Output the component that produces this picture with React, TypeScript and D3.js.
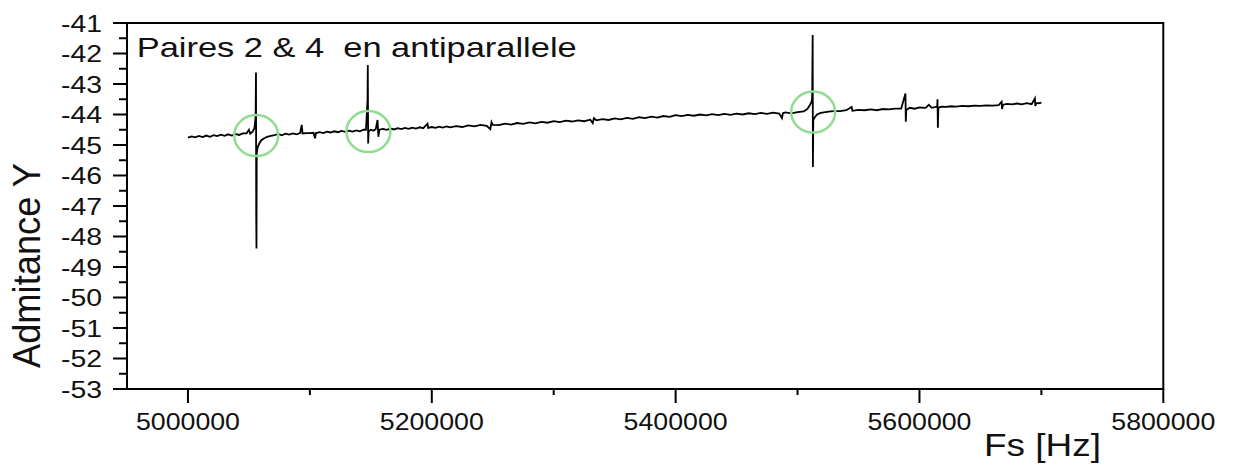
import React from "react";
import * as d3 from "d3";

// Frequency (Hz) and admittance readings
const FREQ: number[] = [
  5000000, 5003000, 5006000, 5009000, 5012000, 5015000, 5018000, 5021000, 5024000, 5027000,
  5030000, 5033000, 5036000, 5039000, 5042000, 5045000, 5048000, 5050000, 5051000, 5053000,
  5054500, 5055500, 5055800, 5056000, 5056200, 5056400, 5057000, 5058500, 5060000, 5062500,
  5065000, 5068000, 5071000, 5074000, 5077000, 5080000, 5083000, 5086000, 5089000, 5092000,
  5093300, 5094000, 5097000, 5100000, 5103000, 5104200, 5105000, 5108000, 5111000, 5114000,
  5117000, 5120000, 5123000, 5126000, 5129000, 5132000, 5135000, 5138000, 5141000, 5144000,
  5146000, 5147300, 5147500, 5147800, 5148200, 5150000, 5152000, 5154000, 5155500, 5156200,
  5157000, 5160000, 5163000, 5166000, 5169000, 5172000, 5175000, 5178000, 5181000, 5184000,
  5187000, 5190000, 5193000, 5196500, 5197000, 5200000, 5203000, 5206000, 5209000, 5212000,
  5215000, 5220000, 5225000, 5230000, 5235000, 5240000, 5245000, 5248000, 5249000, 5250000,
  5255000, 5260000, 5265000, 5270000, 5275000, 5280000, 5285000, 5290000, 5295000, 5300000,
  5305000, 5310000, 5315000, 5320000, 5325000, 5330000, 5332000, 5333000, 5335000, 5340000,
  5345000, 5350000, 5355000, 5360000, 5365000, 5370000, 5375000, 5380000, 5385000, 5390000,
  5395000, 5400000, 5405000, 5410000, 5415000, 5420000, 5425000, 5430000, 5435000, 5440000,
  5445000, 5450000, 5455000, 5460000, 5465000, 5470000, 5475000, 5480000, 5485000, 5487200,
  5488000, 5490000, 5495000, 5500000, 5505000, 5508000, 5510000, 5511500, 5512000, 5512400,
  5512600, 5512900, 5514000, 5516000, 5519000, 5523000, 5527000, 5530000, 5535000, 5540000,
  5544400, 5545000, 5550000, 5555000, 5560000, 5565000, 5570000, 5575000, 5580000, 5585000,
  5588500, 5588800, 5589200, 5592000, 5596000, 5600000, 5605000, 5607700, 5610000, 5614500,
  5614800, 5615100, 5615500, 5618000, 5622000, 5626000, 5630000, 5635000, 5640000, 5645000,
  5650000, 5655000, 5660000, 5665000, 5667400, 5667700, 5668500, 5672000, 5676000, 5680000,
  5684000, 5688000, 5692000, 5694700, 5695000, 5696000, 5698000, 5700000,
];

const ADMIT: number[] = [
  -44.76, -44.72, -44.75, -44.70, -44.74, -44.69, -44.73, -44.68, -44.71, -44.66,
  -44.70, -44.65, -44.69, -44.64, -44.67, -44.62, -44.62, -44.50, -44.63, -44.56,
  -44.45, -44.07, -42.62, -47.35, -48.39, -45.30, -45.10, -44.95, -44.85, -44.78,
  -44.73, -44.70, -44.68, -44.64, -44.68, -44.63, -44.66, -44.62, -44.65, -44.61,
  -44.34, -44.62, -44.61, -44.61, -44.60, -44.78, -44.61, -44.58, -44.61, -44.56,
  -44.59, -44.55, -44.58, -44.54, -44.57, -44.53, -44.56, -44.52, -44.55, -44.50,
  -44.50, -43.52, -42.38, -44.95, -44.55, -44.50, -44.53, -44.48, -44.18, -44.73,
  -44.50, -44.47, -44.50, -44.46, -44.49, -44.45, -44.48, -44.44, -44.47, -44.43,
  -44.46, -44.42, -44.45, -44.30, -44.44, -44.41, -44.44, -44.40, -44.43, -44.39,
  -44.42, -44.38, -44.41, -44.36, -44.39, -44.34, -44.37, -44.48, -44.25, -44.34,
  -44.35, -44.30, -44.33, -44.28, -44.31, -44.26, -44.29, -44.24, -44.27, -44.22,
  -44.25, -44.20, -44.23, -44.19, -44.22, -44.17, -44.28, -44.12, -44.19, -44.15,
  -44.18, -44.13, -44.16, -44.11, -44.14, -44.09, -44.12, -44.07, -44.10, -44.05,
  -44.08, -44.02, -44.05, -44.01, -44.04, -44.00, -44.03, -43.99, -44.02, -43.98,
  -44.01, -43.97, -44.00, -43.96, -43.99, -43.95, -43.98, -43.94, -43.97, -44.12,
  -43.96, -43.93, -43.96, -43.92, -43.90, -43.82, -43.70, -43.58, -43.45, -41.39,
  -45.72, -44.18, -44.10, -44.00, -43.95, -43.92, -43.90, -43.89, -43.89, -43.86,
  -43.75, -43.88, -43.85, -43.86, -43.83, -43.86, -43.82, -43.83, -43.81, -43.81,
  -43.31, -44.24, -43.85, -43.78, -43.81, -43.77, -43.78, -43.68, -43.78, -43.74,
  -43.50, -44.43, -43.78, -43.74, -43.75, -43.73, -43.74, -43.72, -43.73, -43.71,
  -43.72, -43.70, -43.71, -43.69, -43.58, -43.82, -43.68, -43.65, -43.67, -43.64,
  -43.67, -43.63, -43.66, -43.47, -43.72, -43.62, -43.63, -43.61,
];

// Green annotation circles (resonances)
const RES_FREQ: number[] = [5056000, 5148000, 5512800];
const RES_Y: number[] = [-44.69, -44.56, -43.92];

const X_TICKS: number[] = [5000000, 5200000, 5400000, 5600000, 5800000];
const X_MINOR: number[] = [5100000, 5300000, 5500000, 5700000];
const Y_TICKS: number[] = [-41, -42, -43, -44, -45, -46, -47, -48, -49, -50, -51, -52, -53];
const Y_MINOR: number[] = [-41.5, -42.5, -43.5, -44.5, -45.5, -46.5, -47.5, -48.5, -49.5, -50.5, -51.5, -52.5];

const TITLE = "Paires 2 & 4  en antiparallele";
const X_LABEL = "Fs [Hz]";
const Y_LABEL = "Admitance Y";

export default function App() {
  const W = 1233, H = 468;
  const left = 127, right = 1163.3, top = 23, bottom = 389;
  const x = d3.scaleLinear().domain([4950000, 5800000]).range([left, right]);
  const y = d3.scaleLinear().domain([-53, -41]).range([bottom, top]);
  const pts: [number, number][] = FREQ.map((f, i) => [f, ADMIT[i]]);
  const line = d3.line<[number, number]>().x((d) => x(d[0])).y((d) => y(d[1]));
  const font = "'Liberation Sans', Arial, sans-serif";

  return (
    <svg width={W} height={H} style={{ position: "absolute", left: 0, top: 0, background: "#fff" }}>
      <rect x={0} y={0} width={W} height={H} fill="#fff" />
      {/* frame */}
      <rect x={left} y={top} width={right - left} height={bottom - top} fill="none" stroke="#000" strokeWidth={2} />
      {/* y ticks */}
      {Y_TICKS.map((t) => (
        <g key={"yt" + t}>
          <line x1={left - 14} x2={left} y1={y(t)} y2={y(t)} stroke="#000" strokeWidth={2} />
          <text x={61} y={y(t) + 8.5} fontSize={23} fontFamily={font} textLength={41} lengthAdjust="spacingAndGlyphs" fill="#111">
            {String(t)}
          </text>
        </g>
      ))}
      {Y_MINOR.map((t) => (
        <line key={"ym" + t} x1={left - 8} x2={left} y1={y(t)} y2={y(t)} stroke="#000" strokeWidth={2} />
      ))}
      {/* x ticks */}
      {X_TICKS.map((t) => (
        <g key={"xt" + t}>
          <line x1={x(t)} x2={x(t)} y1={bottom} y2={bottom + 14} stroke="#000" strokeWidth={2} />
          <text x={x(t) - 52} y={430} fontSize={24} fontFamily={font} textLength={104} lengthAdjust="spacingAndGlyphs" fill="#111">
            {String(t)}
          </text>
        </g>
      ))}
      {X_MINOR.map((t) => (
        <line key={"xm" + t} x1={x(t)} x2={x(t)} y1={bottom} y2={bottom + 6} stroke="#000" strokeWidth={2} />
      ))}
      {/* data */}
      <path d={line(pts) || ""} fill="none" stroke="#000" strokeWidth={1.8} strokeLinejoin="miter" />
      {/* circles */}
      {RES_FREQ.map((f, i) => (
        <ellipse key={"c" + i} cx={x(f)} cy={y(RES_Y[i])} rx={22} ry={20.5} fill="none" stroke="#8fdc8f" strokeWidth={2.5} />
      ))}
      {/* texts */}
      <text x={136.7} y={56.5} fontSize={28} fontFamily={font} textLength={440} lengthAdjust="spacingAndGlyphs" style={{ whiteSpace: "pre" }} xmlSpace="preserve" fill="#111">
        {TITLE}
      </text>
      <text x={984} y={456} fontSize={32} fontFamily={font} textLength={117} lengthAdjust="spacingAndGlyphs" fill="#111">
        {X_LABEL}
      </text>
      <text
        transform="translate(40,265.5) scale(1.15,1) rotate(-90)"
        textAnchor="middle"
        fontSize={34}
        fontFamily={font}
        textLength={205}
        lengthAdjust="spacingAndGlyphs"
        fill="#111"
      >
        {Y_LABEL}
      </text>
    </svg>
  );
}
